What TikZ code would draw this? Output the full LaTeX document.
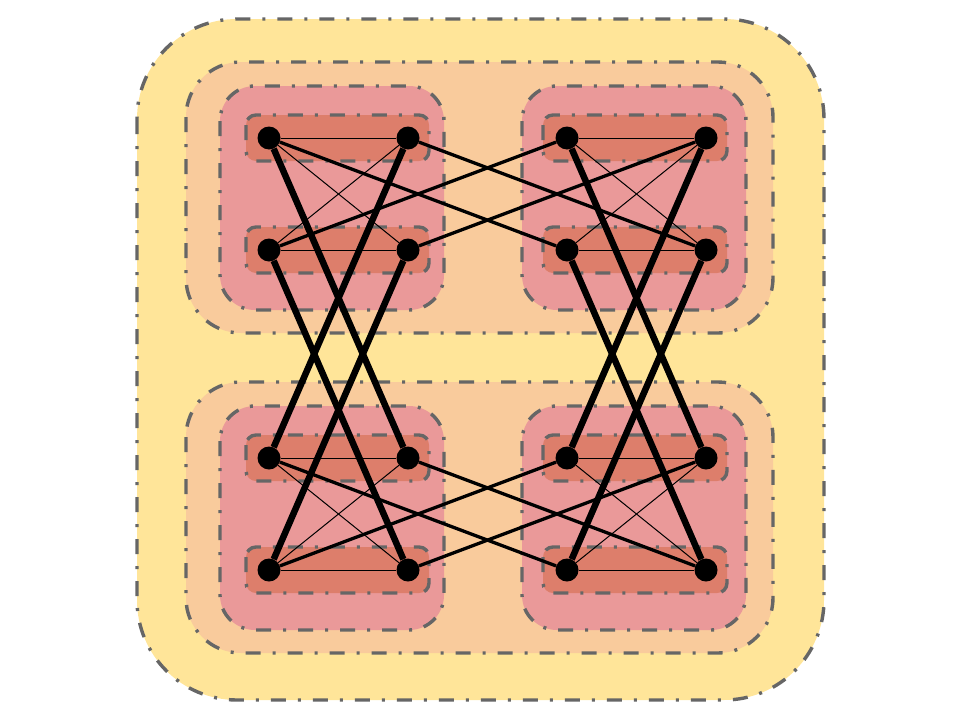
\documentclass[tikz,border=0pt]{standalone}
\definecolor{zoneline}{HTML}{666666}
\definecolor{yellowzone}{HTML}{FFE599}
\definecolor{peachzone}{HTML}{F9CB9C}
\definecolor{pinkzone}{HTML}{EA9999}
\definecolor{salmonzone}{HTML}{DD7E6B}
\begin{document}
\begin{tikzpicture}[line join=round,x=1pt,y=-1pt,
  zone/.style={draw=zoneline,line width=3.4pt,dash pattern=on 15pt off 12pt on 3pt off 12pt},
  vertex/.style={circle,fill=black,inner sep=0pt,minimum size=23pt},
  thinedge/.style={line width=1pt},
  midedge/.style={line width=3.3pt},
  thickedge/.style={line width=6.5pt}]
  \useasboundingbox (0,0) rectangle (960,720);
  % nested zones
  \draw[zone,fill=yellowzone,rounded corners=100pt] (137,19) rectangle (824,700);
  \foreach \t in {0,320} {
    \draw[zone,fill=peachzone,rounded corners=55pt] (186,62+\t) rectangle (773,333+\t);
    \foreach \l/\r in {220/444,522/746}
      \draw[zone,fill=pinkzone,rounded corners=35pt] (\l,86+\t) rectangle (\r,310+\t);
  }
  \foreach \y in {138,250,458,570}
    \foreach \l/\r in {246/429,543/727}
      \draw[zone,fill=salmonzone,rounded corners=10pt] (\l,\y-23) rectangle (\r,\y+23);
  % vertices
  \foreach \x [count=\c] in {269,408,567,706}
    \foreach \y [count=\r] in {138,250,458,570}
      \node[vertex] (p\c\r) at (\x,\y) {};
  % inside a pair and inside a group
  \foreach \a/\b in {1/2,3/4} {
    \foreach \r in {1,...,4}
      \draw[thinedge] (p\a\r) -- (p\b\r);
    \foreach \r/\s in {1/2,3/4} {
      \draw[thinedge] (p\a\r) -- (p\b\s);
      \draw[thinedge] (p\b\r) -- (p\a\s);
    }
  }
  % left group to right group
  \foreach \a/\b in {1/3,2/4}
    \foreach \r/\s in {1/2,3/4} {
      \draw[midedge] (p\a\r) -- (p\b\s);
      \draw[midedge] (p\a\s) -- (p\b\r);
    }
  % top half to bottom half
  \foreach \a/\b in {1/2,3/4}
    \foreach \r/\s in {1/3,2/4} {
      \draw[thickedge] (p\a\r) -- (p\b\s);
      \draw[thickedge] (p\b\r) -- (p\a\s);
    }
\end{tikzpicture}
\end{document}
